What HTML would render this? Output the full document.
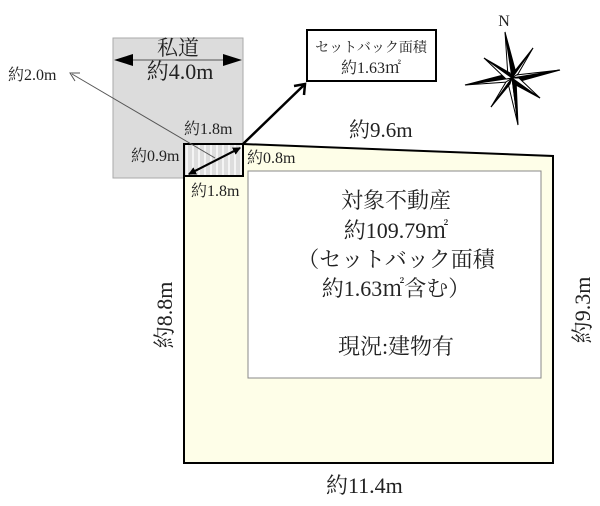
<!DOCTYPE html>
<html><head><meta charset="utf-8"><style>
html,body{margin:0;padding:0;background:#fff;}
svg{display:block;}
text{font-family:"Liberation Serif","Noto Serif CJK SC",serif;fill:#222;}
</style></head><body>
<svg width="600" height="506" viewBox="0 0 600 506" xmlns="http://www.w3.org/2000/svg">
<defs>
<pattern id="h" width="6" height="6" patternUnits="userSpaceOnUse">
<rect width="6" height="6" fill="#ddd"/><rect width="2" height="6" fill="#f4f4f4"/>
</pattern>
<marker id="a" markerWidth="8" markerHeight="8" refX="7" refY="4" orient="auto" markerUnits="userSpaceOnUse"><path d="M0,0 L8,4 L0,8 Z" fill="#000"/></marker>
</defs>
<rect x="113" y="38" width="130" height="140" fill="#dcdcdc" stroke="#aaa"/>
<polygon points="184,144 243,144 553,156 553,463 184,463" fill="#fefee8" stroke="#000" stroke-width="2"/>
<rect x="184" y="144" width="59" height="32" fill="url(#h)" stroke="#000" stroke-width="2"/>
<rect x="248" y="171" width="293" height="207" fill="#fff" stroke="#888"/>
<line x1="128" y1="60" x2="228" y2="60" stroke="#555"/>
<polygon points="114,60 133,54 133,66" fill="#000"/>
<polygon points="242,60 223,54 223,66" fill="#000"/>
<text x="178" y="55" font-size="21" text-anchor="middle">私道</text>
<text x="180" y="79" font-size="22" text-anchor="middle">約4.0m</text>
<line x1="215" y1="158" x2="72" y2="74" stroke="#555"/>
<path d="M80,73 L70,73 L75,81" fill="none" stroke="#555"/>
<text x="8" y="80" font-size="16">約2.0m</text>
<line x1="189" y1="174" x2="240" y2="148" stroke="#000" stroke-width="2" marker-end="url(#a)"/>
<line x1="240" y1="148" x2="189" y2="174" stroke="#000" stroke-width="2" marker-end="url(#a)"/>
<line x1="243" y1="144" x2="304" y2="85" stroke="#000" stroke-width="2.5"/>
<path d="M294,86 L305,84 L304,95" fill="none" stroke="#000" stroke-width="2.5"/>
<rect x="307" y="30" width="129" height="51" fill="#fff" stroke="#000" stroke-width="2"/>
<text x="371" y="52" font-size="14" text-anchor="middle">セットバック面積</text>
<text x="371" y="73" font-size="16" text-anchor="middle">約1.63㎡</text>
<text x="184" y="134" font-size="16">約1.8m</text>
<text x="131" y="161" font-size="16">約0.9m</text>
<text x="247" y="163" font-size="16">約0.8m</text>
<text x="191" y="196" font-size="16">約1.8m</text>
<text x="349" y="137" font-size="21">約9.6m</text>
<text x="326" y="493" font-size="22">約11.4m</text>
<text font-size="22" transform="translate(172,315) rotate(-90)" text-anchor="middle">約8.8m</text>
<text font-size="22" transform="translate(590,310) rotate(-90)" text-anchor="middle">約9.3m</text>
<g font-size="22" text-anchor="middle">
<text x="396" y="208">対象不動産</text>
<text x="396" y="238">約109.79㎡</text>
<text x="396" y="267">（セットバック面積</text>
<text x="396" y="296">約1.63㎡含む）</text>
<text x="396" y="354">現況:建物有</text>
</g>
<text x="504" y="26" font-size="16" text-anchor="middle">N</text>
<g stroke="#000" stroke-width="1">
<polygon points="505,32 516,73 512,78" fill="#000"/>
<polygon points="505,32 508,77 512,78" fill="#fff"/>
<polygon points="518,125 508,83 512,78" fill="#fff"/>
<polygon points="518,125 516,79 512,78" fill="#000"/>
<polygon points="465,85 507,74 512,78" fill="#000"/>
<polygon points="465,85 508,82 512,78" fill="#fff"/>
<polygon points="560,70 517,82 512,78" fill="#000"/>
<polygon points="560,70 516,75 512,78" fill="#fff"/>
<polygon points="484,58 510,73 512,78" fill="#000"/>
<polygon points="484,58 506,79 512,78" fill="#fff"/>
<polygon points="533,48 518,74 512,78" fill="#fff"/>
<polygon points="533,48 514,72 512,78" fill="#000"/>
<polygon points="540,98 514,84 512,78" fill="#000"/>
<polygon points="540,98 519,78 512,78" fill="#fff"/>
<polygon points="491,107 506,82 512,78" fill="#fff"/>
<polygon points="491,107 510,84 512,78" fill="#000"/>
</g>
</svg>
</body></html>
